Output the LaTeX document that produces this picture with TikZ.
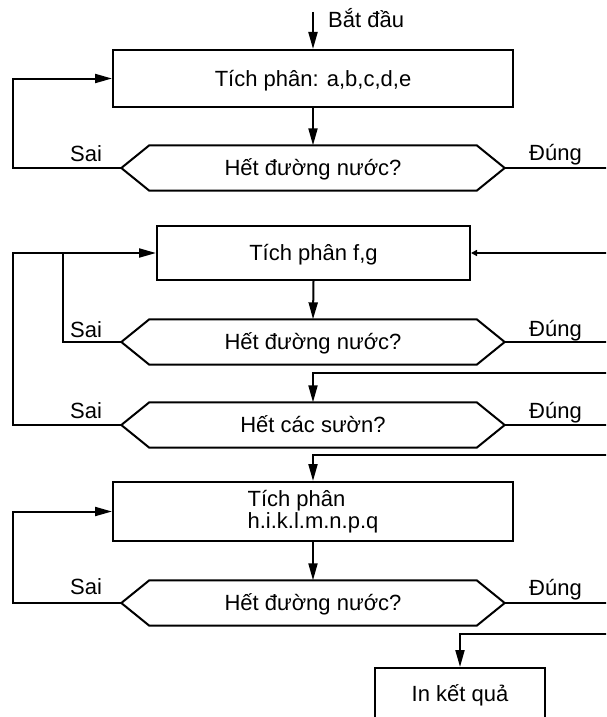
\documentclass[tikz,border=0pt]{standalone}
\usepackage{fontspec}
\setmainfont{Liberation Sans}
\usetikzlibrary{arrows.meta}
\tikzset{
  ln/.style={line width=2pt, line join=miter},
  arr/.style={-{Triangle[length=17pt,width=9pt]}},
  smallarr/.style={-{Triangle[length=6pt,width=6pt]}},
  txt/.style={font=\fontsize{22pt}{22pt}\selectfont, inner sep=0pt},
  boxnode/.style={txt, draw, line width=2pt, text height=15pt, text depth=0pt},
  hexnode/.style={txt, minimum width=383pt, minimum height=45pt, text height=15pt, text depth=0pt},
  lbl/.style={txt, anchor=base west}
}
\newcommand\hexline[1]{\draw[ln] (#1.west) -- ([xshift=28pt]#1.north west) -- ([xshift=-28pt]#1.north east) -- (#1.east) -- ([xshift=-28pt]#1.south east) -- ([xshift=28pt]#1.south west) -- cycle;}
\begin{document}
\begin{tikzpicture}[x=1pt,y=-1pt]
\useasboundingbox (0,0) rectangle (606,717);
\clip (0,0) rectangle (606,717);
% coordinates for free ends
\coordinate (s) at (313,12);
\coordinate (L) at (13,0);
\coordinate (M) at (63,0);
\coordinate (R) at (612,0);
\coordinate (r3) at (612,373);
\coordinate (r4) at (612,455);
\coordinate (r5) at (612,634);
% nodes
\node[boxnode, minimum width=400pt, minimum height=57pt] (box1) at (313,78.5) {Tích phân: a,b,c,d,e};
\node[hexnode] (hex1) at (313,168) {Hết đường nước?};
\node[boxnode, minimum width=313pt, minimum height=54pt] (box2) at (313.5,253) {Tích phân f,g};
\node[hexnode] (hex2) at (313,342) {Hết đường nước?};
\node[hexnode] (hex3) at (313,425) {Hết các sườn?};
\node[txt, draw, line width=2pt, align=left, minimum width=400pt, minimum height=59pt] (box3) at (313,511.5) {Tích phân\\h.i.k.l.m.n.p.q};
\node[hexnode] (hex4) at (313,603) {Hết đường nước?};
\node[txt, draw, line width=2pt, anchor=north, minimum width=170pt, minimum height=60pt, text height=15pt, text depth=9pt] (box4) at (460,667) {In kết quả};
\hexline{hex1}
\hexline{hex2}
\hexline{hex3}
\hexline{hex4}
% labels
\node[lbl] (start) at (328,28) {Bắt đầu};
\node[lbl] (sai1) at (70,161) {Sai};
\node[lbl] (sai2) at (70,337) {Sai};
\node[lbl] (sai3) at (70,418) {Sai};
\node[lbl] (sai4) at (70,594) {Sai};
\node[lbl] (dung1) at (529,160) {Đúng};
\node[lbl] (dung2) at (529,336) {Đúng};
\node[lbl] (dung3) at (529,418) {Đúng};
\node[lbl] (dung4) at (529,595) {Đúng};
% connectors
\draw[ln,arr] (s) -- (box1.north);
\draw[ln,arr] (box1.south) -- (hex1.north);
\draw[ln,arr] (hex1.west) -- (hex1.west -| L) |- (box1.west);
\draw[ln] (hex1.east) -- (hex1.east -| R);
\draw[ln,smallarr] (box2.east -| R) -- (box2.east);
\draw[ln,arr] (box2.south) -- (hex2.north);
\draw[ln] (hex2.west) -- (hex2.west -| M) -- (M |- box2.west);
\draw[ln,arr] (hex3.west) -- (hex3.west -| L) |- (box2.west);
\draw[ln] (hex2.east) -- (hex2.east -| R);
\draw[ln,arr] (r3) -| (hex3.north);
\draw[ln] (hex3.east) -- (hex3.east -| R);
\draw[ln,arr] (r4) -| (box3.north);
\draw[ln,arr] (box3.south) -- (hex4.north);
\draw[ln,arr] (hex4.west) -- (hex4.west -| L) |- (box3.west);
\draw[ln] (hex4.east) -- (hex4.east -| R);
\draw[ln,arr] (r5) -| (box4.north);
\end{tikzpicture}
\end{document}
